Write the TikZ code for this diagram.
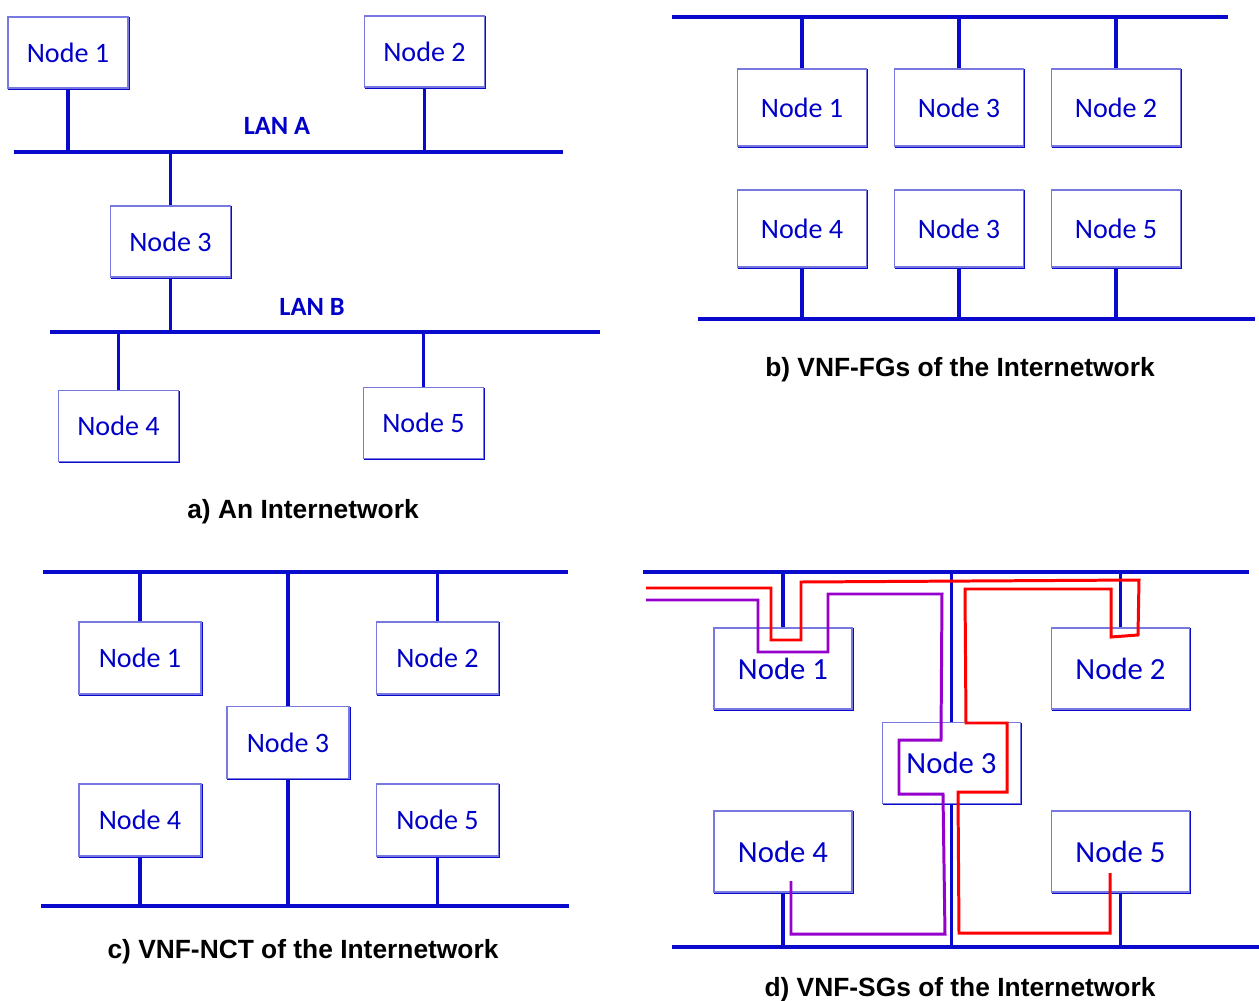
\documentclass[tikz,border=0pt]{standalone}
\usepackage{fontspec}
\setmainfont{Carlito}
\newfontfamily\capfont{Liberation Sans}
\usepackage{tikz}
\usetikzlibrary{positioning}

\definecolor{lineblue}{RGB}{10,10,205}
\definecolor{textblue}{RGB}{0,0,200}
\definecolor{boxblue}{RGB}{120,120,225}
\definecolor{pathred}{RGB}{255,0,0}
\definecolor{pathviolet}{RGB}{150,0,205}

\begin{document}
\begin{tikzpicture}[
  x=0.02cm, y=-0.02cm,
  nodebox/.style={rectangle, draw=boxblue, fill=white, line width=0.8pt, text=textblue, font=\fontsize{16}{19}\selectfont,
    preaction={draw=lineblue, line width=0.9pt, transform canvas={shift={(0.6pt,-0.6pt)}}}},
  boxa/.style={nodebox, minimum width=2.4cm, minimum height=1.42cm},
  boxb/.style={nodebox, minimum width=2.58cm, minimum height=1.54cm},
  boxc/.style={nodebox, minimum width=2.44cm, minimum height=1.44cm},
  boxd/.style={nodebox, minimum width=2.76cm, minimum height=1.62cm, font=\fontsize{17.5}{20}\selectfont},
  bus/.style={draw=lineblue, line width=2.8pt},
  drop/.style={draw=lineblue, line width=2pt},
  lanlabel/.style={text=textblue, font=\fontsize{15}{18}\selectfont\bfseries},
  caption/.style={font=\capfont\fontsize{15}{18}\selectfont\bfseries},
  sgred/.style={draw=pathred, line width=1.7pt},
  sgviolet/.style={draw=pathviolet, line width=1.7pt}
]
\useasboundingbox (0,0) rectangle (1259,1001);

% a) An Internetwork
\coordinate (lanAl) at (14,152);
\coordinate (lanAr) at (563,152);
\coordinate (lanBl) at (50,332);
\coordinate (lanBr) at (600,332);
\node[boxa] (a1) at (68,52.5) {Node 1};
\node[boxa] (a2) at (424.5,51.5) {Node 2};
\node[boxa] (a3) at (170.5,241.5) {Node 3};
\node[boxa] (a4) at (118.5,426) {Node 4};
\node[boxa] (a5) at (423.5,423) {Node 5};
\node[lanlabel] (lanA) at (277,126) {LAN A};
\node[lanlabel] (lanB) at (312,307) {LAN B};

\draw[bus] (lanAl) -- (lanAr);
\draw[bus] (lanBl) -- (lanBr);
\draw[drop] (a1.south) -- (a1.south |- lanAl);
\draw[drop] (a2.south) -- (a2.south |- lanAl);
\draw[drop] (a3.north) -- (a3.north |- lanAl);
\draw[drop] (a3.south) -- (a3.south |- lanBl);
\draw[drop] (a4.north) -- (a4.north |- lanBl);
\draw[drop] (a5.north) -- (a5.north |- lanBl);
\node[caption] (capa) at (303,512) {a) An Internetwork};

% b) VNF-FGs
\coordinate (fgtl) at (672,17);
\coordinate (fgtr) at (1228,17);
\coordinate (fgbl) at (698,319);
\coordinate (fgbr) at (1255,319);
\node[boxb] (b1) at (802,107.5) {Node 1};
\node[boxb] (b3) at (959,107.5) {Node 3};
\node[boxb] (b2) at (1116,107.5) {Node 2};
\node[boxb] (b4) at (802,228.5) {Node 4};
\node[boxb] (b6) at (959,228.5) {Node 3};
\node[boxb] (b5) at (1116,228.5) {Node 5};

\draw[bus, line width=2.2pt] (fgtl) -- (fgtr);
\draw[bus, line width=2.2pt] (fgbl) -- (fgbr);
\foreach \n in {b1,b3,b2}
  \draw[drop, line width=1.8pt] (\n.north) -- (\n.north |- fgtl);
\foreach \n in {b4,b6,b5}
  \draw[drop, line width=1.8pt] (\n.south) -- (\n.south |- fgbl);
\node[caption] (capb) at (960,370) {b) VNF-FGs of the Internetwork};

% c) VNF-NCT
\coordinate (nctl) at (43,572);
\coordinate (nctr) at (568,572);
\coordinate (ncbl) at (41,906);
\coordinate (ncbr) at (569,906);
\node[boxc] (c1) at (140,658) {Node 1};
\node[boxc] (c2) at (437.5,658) {Node 2};
\node[boxc] (c3) at (288,742.5) {Node 3};
\node[boxc] (c4) at (140,820) {Node 4};
\node[boxc] (c5) at (437.5,820) {Node 5};

\draw[bus, line width=2.2pt] (nctl) -- (nctr);
\draw[bus, line width=2.2pt] (ncbl) -- (ncbr);
\foreach \n in {c1,c2,c3}
  \draw[drop, line width=1.8pt] (\n.north) -- (\n.north |- nctl);
\foreach \n in {c3,c4,c5}
  \draw[drop, line width=1.8pt] (\n.south) -- (\n.south |- ncbl);
\node[caption] (capc) at (303,952) {c) VNF-NCT of the Internetwork};

% d) VNF-SGs
\coordinate (sgtl) at (643,572);
\coordinate (sgtr) at (1249,572);
\coordinate (sgbl) at (672,947);
\coordinate (sgbr) at (1259,947);
\node[boxd] (d1) at (783,668.5) {Node 1};
\node[boxd] (d2) at (1120.5,668.5) {Node 2};
\node[boxd] (d3) at (951.5,763) {Node 3};
\node[boxd] (d4) at (783,851.5) {Node 4};
\node[boxd] (d5) at (1120.5,851.5) {Node 5};

\draw[bus, line width=2.4pt] (sgtl) -- (sgtr);
\draw[bus, line width=2.4pt] (sgbl) -- (sgbr);
\foreach \n in {d1,d2,d3}
  \draw[drop] (\n.north) -- (\n.north |- sgtl);
\foreach \n in {d3,d4,d5}
  \draw[drop] (\n.south) -- (\n.south |- sgbl);

% service graphs
\coordinate (redin) at (646,588);
\coordinate (violetin) at (646,600);
\draw[sgred] (redin) -- (771,588) -- (771,640) -- (801,640) -- (801,582) -- (1139,580)
  -- (1138,635) -- (1111,637) -- (1111,589) -- (965,589) -- (966,723) -- (1007,723)
  -- (1007,792) -- (958,792) -- (959,933) -- (1110,933) -- (1110,873);
\draw[sgviolet] (violetin) -- (758,600) -- (758,652) -- (828,652) -- (828,594) -- (942,594)
  -- (941,740) -- (899,740) -- (899,794) -- (943,794) -- (945,934) -- (791,934) -- (791,881);
\node[caption] (capd) at (960,990) {d) VNF-SGs of the Internetwork};

\end{tikzpicture}
\end{document}
